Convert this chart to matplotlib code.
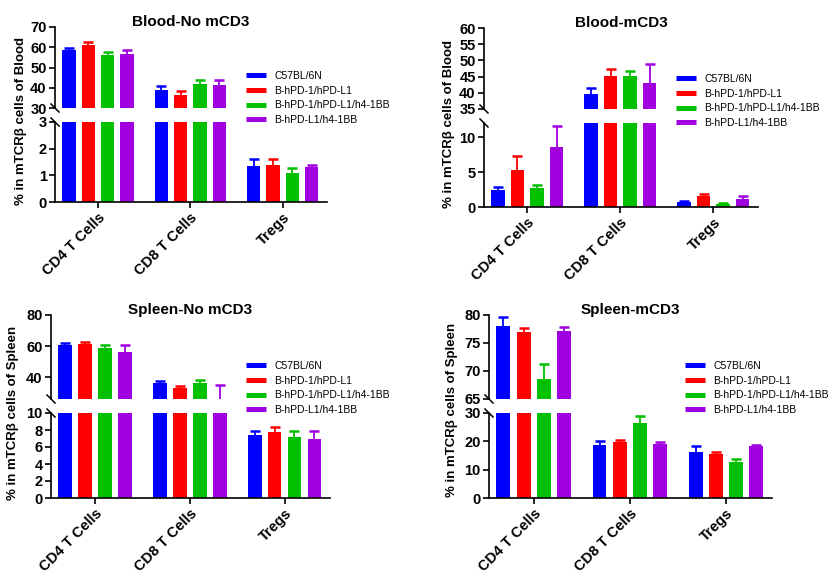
import matplotlib
matplotlib.use('Agg')
import matplotlib.pyplot as plt
from matplotlib.lines import Line2D
import numpy as np

plt.rcParams['font.family'] = ['Liberation Sans', 'DejaVu Sans']
plt.rcParams['font.weight'] = 'bold'

groups = ['CD4 T Cells', 'CD8 T Cells', 'Tregs']
strains = ['C57BL/6N', 'B-hPD-1/hPD-L1', 'B-hPD-1/hPD-L1/h4-1BB', 'B-hPD-L1/h4-1BB']
colors = ['#0000FF', '#FF0000', '#00C000', '#A000E0']

# rows = strains, columns = groups
blood_no_mean = [[58.7, 39.0, 1.36], [61.2, 36.6, 1.40], [56.2, 42.0, 1.07], [56.5, 41.5, 1.32]]
blood_no_err = [[1.1, 1.8, 0.26], [1.6, 1.6, 0.22], [1.6, 1.6, 0.22], [2.3, 2.1, 0.08]]

blood_m_mean = [[2.4, 39.7, 0.67], [5.3, 45.2, 1.53], [2.7, 45.2, 0.38], [8.6, 43.1, 1.10]]
blood_m_err = [[0.5, 1.7, 0.23], [2.0, 2.1, 0.37], [0.5, 1.4, 0.24], [3.0, 5.9, 0.48]]

spleen_no_mean = [[60.8, 36.4, 7.41], [61.4, 33.2, 7.76], [58.8, 36.4, 7.22], [56.3, 22.0, 6.94]]
spleen_no_err = [[1.0, 1.2, 0.43], [1.5, 1.2, 0.59], [1.7, 1.5, 0.70], [4.2, 13.0, 0.98]]

spleen_m_mean = [[78.0, 18.7, 16.2], [77.0, 19.8, 15.5], [68.6, 26.6, 12.8], [77.2, 19.1, 18.4]]
spleen_m_err = [[1.7, 1.5, 2.1], [0.75, 0.8, 0.6], [2.7, 2.2, 0.8], [0.7, 0.8, 0.4]]

W, H = 840, 585
fig = plt.figure(figsize=(8.4, 5.85), dpi=100)

bar_w = 0.145
offsets = [-0.315, -0.105, 0.105, 0.315]


def fx(x):
    return x / W


def fy(y):
    return 1 - y / H


def draw_panel(box, title, ylabel, ylab_xy, leg_xy, means, errs,
               up_lim, up_ticks, lo_lim, lo_ticks):
    left, right, up_top, up_bot, lo_top, lo_bot = box
    ax_up = fig.add_axes([fx(left), fy(up_bot), (right - left) / W, (up_bot - up_top) / H])
    ax_lo = fig.add_axes([fx(left), fy(lo_bot), (right - left) / W, (lo_bot - lo_top) / H])
    x = np.arange(len(groups))
    for i in range(len(strains)):
        pos = x + offsets[i]
        m = np.array(means[i])
        e = np.array(errs[i])
        for ax in (ax_up, ax_lo):
            ax.bar(pos, m, bar_w, color=colors[i], zorder=2)
            ax.vlines(pos, m, m + e, color=colors[i], lw=1.3, zorder=3)
            ax.plot(pos, m + e, ls='none', marker='_', ms=7, mew=1.8,
                    color=colors[i], zorder=3)

    for ax in (ax_up, ax_lo):
        ax.set_xlim(-0.465, 2.48)
        for s in ('top', 'right'):
            ax.spines[s].set_visible(False)
        for s in ('left', 'bottom'):
            ax.spines[s].set_linewidth(1.2)
        ax.tick_params(axis='both', direction='out', length=4, width=1.2,
                       labelsize=10.5, pad=2)

    ax_up.set_ylim(*up_lim)
    ax_up.set_yticks(up_ticks)
    ax_up.spines['bottom'].set_visible(False)
    ax_up.set_xticks([])

    ax_lo.set_ylim(*lo_lim)
    ax_lo.set_yticks(lo_ticks)
    ax_lo.set_xticks(x)
    ax_lo.set_xticklabels(groups, rotation=45, ha='right', va='top',
                          rotation_mode='anchor', fontsize=10.5)

    # axis break marks
    for yy in (up_bot, lo_top):
        fig.add_artist(Line2D([fx(left - 4), fx(left + 4)], [fy(yy - 4), fy(yy + 4)],
                              color='black', lw=1.1))

    fig.text(fx((left + right) / 2), fy(up_top - 5), title, ha='center', va='center',
             fontsize=11, weight='bold')
    fig.text(fx(ylab_xy[0]), fy(ylab_xy[1]), ylabel, rotation=90, ha='center',
             va='center', fontsize=9.5, weight='bold')

    handles = [Line2D([], [], color=c, lw=3.6, solid_capstyle='butt') for c in colors]
    fig.legend(handles, strains, loc='upper left',
               bbox_to_anchor=(fx(leg_xy[0]), fy(leg_xy[1])),
               frameon=False, prop={'size': 7.5, 'weight': 'normal'},
               handlelength=1.9, handletextpad=0.8, labelspacing=0.45,
               borderpad=0, borderaxespad=0)


draw_panel((55, 327, 27, 108, 122, 202), 'Blood-No mCD3', '% in mTCRβ cells of Blood',
           (21, 121), (246, 71), blood_no_mean, blood_no_err,
           (30, 70), [30, 40, 50, 60, 70], (0, 3), [0, 1, 2, 3])

draw_panel((484, 758, 28, 109, 123, 207), 'Blood-mCD3', '% in mTCRβ cells of Blood',
           (449, 124), (676, 74), blood_m_mean, blood_m_err,
           (35, 60), [35, 40, 45, 50, 55, 60], (0, 12), [0, 5, 10])

draw_panel((51, 330, 315, 399, 413, 498), 'Spleen-No mCD3', '% in mTCRβ cells of Spleen',
           (13, 413), (246, 361), spleen_no_mean, spleen_no_err,
           (26, 80), [40, 60, 80], (0, 10), [0, 2, 4, 6, 8, 10])

draw_panel((489, 772, 315, 399, 413, 498), 'Spleen-mCD3', '% in mTCRβ cells of Spleen',
           (452, 410), (685, 361), spleen_m_mean, spleen_m_err,
           (65, 80), [65, 70, 75, 80], (0, 30), [0, 10, 20, 30])

fig.savefig('out.png', dpi=100)
